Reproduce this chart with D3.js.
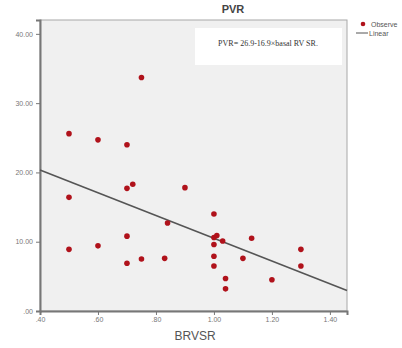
<!DOCTYPE html>
<html>
<head>
<meta charset="utf-8">
<script src="https://cdn.jsdelivr.net/npm/d3@7"></script>
<style>
  body { margin: 0; background: #fff; }
  svg { display: block; font-family: "Liberation Sans", Arial, sans-serif; }
</style>
</head>
<body>
<div id="chart"></div>
<script>
// datos
const brvsr = [0.50, 0.60, 0.70, 0.75, 0.70, 0.72, 0.50, 0.90, 0.84, 1.00,
               1.00, 1.01, 1.03, 1.00, 1.13, 1.00, 1.00, 1.10, 1.04, 1.04,
               1.20, 1.30, 1.30, 0.70, 0.75, 0.83, 0.50, 0.60, 0.70];
const pvr = [25.6, 24.7, 24.0, 33.7, 17.7, 18.3, 16.4, 17.8, 12.7, 14.0,
             10.6, 10.9, 10.1, 9.6, 10.5, 7.9, 6.5, 7.6, 4.7, 3.2,
             4.5, 8.9, 6.5, 6.9, 7.5, 7.6, 8.9, 9.4, 10.8];
const xTicks = [0.4, 0.6, 0.8, 1.0, 1.2, 1.4];
const yTicks = [0, 10, 20, 30, 40];
const lineIntercept = 26.9;
const lineSlope = -16.4;
const equation = "PVR= 26.9-16.9\u00d7basal RV SR.";

function drawScatter(container){
  const width = 402, height = 348;
  const margin = ({top: 20, right: 55, bottom: 37, left: 40});

  const x = d3.scaleLinear()
    .domain([0.4, 1.459])
    .range([margin.left, width - margin.right]);

  const y = d3.scaleLinear()
    .domain([0, 42])
    .range([height - margin.bottom, margin.top]);

  const svg = d3.select(container).append("svg")
      .attr("width", width)
      .attr("height", height)
      .attr("viewBox", [0, 0, width, height]);

  // fondo del area de trazado
  svg.append("rect")
      .attr("x", margin.left)
      .attr("y", margin.top)
      .attr("width", width - margin.right - margin.left)
      .attr("height", height - margin.bottom - margin.top)
      .attr("fill", "#f0f0f0")
      .attr("stroke", "#a8a8a8")
      .attr("stroke-width", 1);

  // cuadro de la ecuacion
  svg.append("rect")
      .attr("x", 195)
      .attr("y", 28)
      .attr("width", 147)
      .attr("height", 37)
      .attr("fill", "#fff");

  svg.append("text")
      .attr("x", 268)
      .attr("y", 46)
      .attr("text-anchor", "middle")
      .attr("font-family", "'Liberation Serif', 'DejaVu Serif', serif")
      .attr("font-size", 8)
      .attr("fill", "#333")
      .text(equation);

  const xAxis = g => g
      .attr("transform", `translate(0,${height - margin.bottom})`)
      .call(d3.axisBottom(x).tickValues(xTicks).tickSize(4)
        .tickFormat(d => d3.format(".2f")(d).replace(/^0/, "")))
      .call(g => g.select(".domain").attr("stroke", "#777").attr("stroke-width", 2))
      .call(g => g.selectAll(".tick line").attr("stroke", "#777"))
      .call(g => g.selectAll(".tick text").attr("fill", "#777").attr("font-size", 7).attr("dy", "0.6em"));

  const yAxis = g => g
      .attr("transform", `translate(${margin.left},0)`)
      .call(d3.axisLeft(y).tickValues(yTicks).tickSize(4)
        .tickFormat(d => d3.format(".2f")(d).replace(/^0/, "")))
      .call(g => g.select(".domain").attr("stroke", "#777").attr("stroke-width", 2))
      .call(g => g.selectAll(".tick line").attr("stroke", "#777"))
      .call(g => g.selectAll(".tick text").attr("fill", "#777").attr("font-size", 7));

  svg.append("g").call(xAxis);
  svg.append("g").call(yAxis);

  // recta de regresion
  const xd = x.domain();
  svg.append("line")
      .attr("x1", x(xd[0]))
      .attr("y1", y(lineIntercept + lineSlope * xd[0]))
      .attr("x2", x(xd[1]))
      .attr("y2", y(lineIntercept + lineSlope * xd[1]))
      .attr("stroke", "#555")
      .attr("stroke-width", 1.6);

  svg.append("g")
      .attr("fill", "#b0121b")
    .selectAll("circle")
    .data(d3.zip(brvsr, pvr))
    .join("circle")
      .attr("cx", d => x(d[0]))
      .attr("cy", d => y(d[1]))
      .attr("r", 2.8);

  // titulo
  svg.append("text")
      .attr("x", 233)
      .attr("y", 13)
      .attr("text-anchor", "middle")
      .attr("font-weight", "bold")
      .attr("font-size", 11)
      .attr("fill", "#444")
      .text("PVR");

  svg.append("text")
      .attr("x", 195)
      .attr("y", 340)
      .attr("text-anchor", "middle")
      .attr("font-size", 12)
      .attr("fill", "#555")
      .text("BRVSR");

  // leyenda
  const legend = svg.append("g").attr("font-size", 7).attr("fill", "#555");
  legend.append("circle").attr("cx", 363).attr("cy", 24).attr("r", 2.3).attr("fill", "#b0121b");
  legend.append("text").attr("x", 371).attr("y", 26.5).text("Observe");
  legend.append("line").attr("x1", 356).attr("x2", 368).attr("y1", 33).attr("y2", 33)
      .attr("stroke", "#555").attr("stroke-width", 1);
  legend.append("text").attr("x", 369).attr("y", 35.5).text("Linear");
}

drawScatter("#chart");
</script>
</body>
</html>
